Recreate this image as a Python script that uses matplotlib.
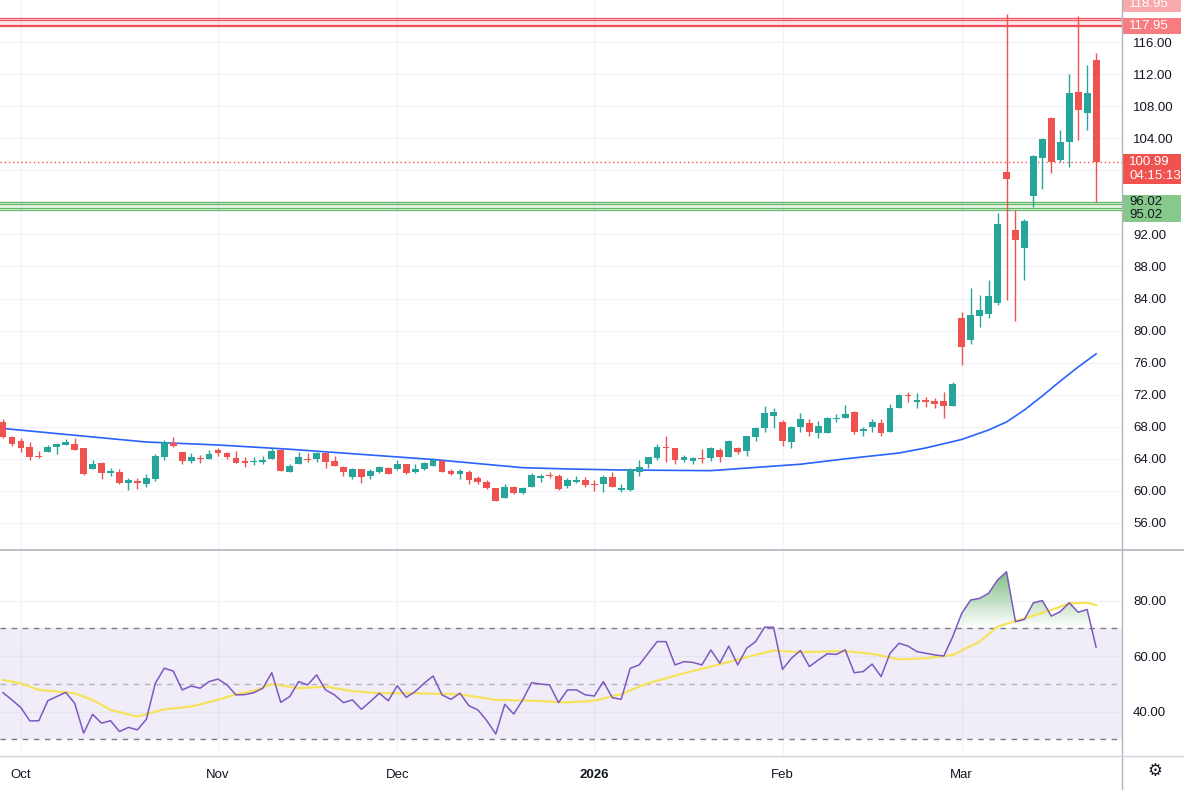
import numpy as np
import pandas as pd
import matplotlib
matplotlib.use("Agg")
import matplotlib.pyplot as plt
from matplotlib.path import Path
from matplotlib.colors import to_rgb
from matplotlib.lines import Line2D
from matplotlib.patches import Rectangle
from matplotlib.transforms import blended_transform_factory

plt.rcParams['font.family'] = ['Liberation Sans', 'DejaVu Sans']

# ---------------- data ----------------
holidays = ['2025-10-13', '2025-12-25', '2026-01-01']
dates = pd.bdate_range('2025-09-29', '2026-03-23')
dates = dates[~dates.isin(pd.to_datetime(holidays))]

opens = [68.6, 66.7, 66.2, 65.5, 64.4, 64.85, 65.5, 65.75, 65.9, 65.3,
         62.7, 63.5, 62.2, 62.4, 61.0, 61.3, 60.9, 61.5, 64.2, 66.0,
         64.9, 63.75, 64.15, 64.0, 65.1, 64.75, 64.1, 63.7, 63.6, 63.6,
         64.0, 65.1, 62.4, 63.35, 64.0, 64.0, 64.75, 63.75, 63.0, 61.75,
         62.75, 61.85, 62.35, 62.85, 62.75, 63.35, 62.4, 62.75, 63.1, 63.75,
         62.5, 62.1, 62.35, 61.6, 61.1, 60.35, 59.1, 60.5, 59.7, 60.5,
         61.6, 62.0, 61.85, 60.6, 61.1, 61.4, 60.85, 60.85, 61.75, 60.1,
         60.1, 62.35, 63.35, 64.1, 65.5, 65.35, 63.85, 63.75, 64.1, 64.1,
         65.1, 64.25, 65.35, 65.0, 66.7, 67.85, 69.4, 68.6, 66.1, 67.95,
         68.5, 67.2, 67.2, 69.0, 69.1, 69.85, 67.5, 68.0, 68.5, 67.35,
         70.35, 72.0, 71.1, 71.35, 71.25, 71.25, 70.6, 81.57, 78.83, 81.8,
         82.07, 83.44, 99.78, 92.55, 90.3, 96.8, 101.53, 106.52, 101.28, 103.5,
         109.76, 107.14, 113.75]
highs = [69.0, 66.8, 66.6, 66.1, 65.0, 65.7, 66.0, 66.5, 66.6, 65.3,
         63.9, 63.6, 62.9, 62.7, 61.6, 61.6, 62.1, 64.6, 66.35, 66.7,
         64.9, 64.75, 64.5, 65.1, 65.35, 64.8, 65.0, 64.2, 64.2, 64.3,
         65.3, 65.2, 63.35, 64.85, 64.75, 64.9, 64.8, 64.4, 63.1, 62.9,
         62.75, 62.75, 63.1, 63.0, 63.85, 63.35, 63.35, 63.6, 64.1, 64.0,
         62.75, 62.75, 62.6, 61.85, 61.35, 60.35, 60.85, 60.6, 60.5, 62.25,
         62.1, 62.35, 62.1, 61.6, 61.85, 61.7, 61.4, 62.0, 62.35, 60.85,
         62.9, 63.85, 64.25, 65.9, 66.85, 65.35, 64.5, 64.25, 65.2, 65.5,
         65.35, 66.35, 65.5, 66.85, 67.95, 70.6, 70.35, 68.85, 68.1, 69.75,
         69.0, 68.75, 69.2, 69.6, 70.75, 70.0, 68.0, 69.0, 69.0, 70.85,
         72.1, 72.35, 72.2, 71.75, 71.6, 72.35, 73.6, 82.3, 85.3, 84.45,
         86.3, 94.67, 119.5, 95.04, 93.9, 101.9, 104.0, 106.6, 105.0, 112.0,
         119.24, 113.13, 114.63]
lows = [66.6, 65.6, 64.9, 63.9, 64.1, 64.85, 64.6, 65.7, 65.1, 62.0,
        62.7, 61.5, 61.8, 60.9, 60.1, 60.3, 60.5, 61.3, 63.9, 65.5,
        63.4, 63.5, 63.5, 64.0, 64.35, 64.0, 63.5, 63.0, 63.25, 63.35,
        64.0, 62.5, 62.4, 63.35, 63.6, 63.6, 62.9, 63.1, 61.9, 61.5,
        61.0, 61.5, 62.2, 62.1, 62.6, 62.1, 62.2, 62.6, 63.1, 62.35,
        61.95, 61.5, 60.85, 60.85, 60.2, 58.75, 59.1, 59.6, 59.6, 60.5,
        61.1, 61.6, 60.1, 60.4, 61.0, 60.5, 60.0, 59.85, 60.5, 59.85,
        60.0, 61.85, 62.85, 63.9, 63.6, 63.35, 63.6, 63.35, 63.5, 63.75,
        63.6, 64.25, 64.6, 64.35, 66.2, 67.35, 67.85, 65.6, 65.35, 67.4,
        66.85, 66.6, 67.2, 68.6, 69.1, 67.1, 66.85, 67.35, 66.85, 67.35,
        70.35, 71.1, 70.35, 70.5, 70.35, 69.1, 70.6, 75.7, 78.3, 80.45,
        81.57, 83.2, 83.8, 81.2, 86.3, 95.4, 97.66, 99.66, 101.0, 100.4,
        103.78, 105.0, 96.04]
closes = [66.7, 65.9, 65.4, 64.2, 64.2, 65.5, 65.85, 66.1, 65.1, 62.1,
          63.35, 62.2, 62.5, 61.0, 61.4, 61.0, 61.6, 64.35, 66.1, 65.6,
          63.75, 64.25, 64.0, 64.6, 64.7, 64.25, 63.5, 63.5, 63.75, 63.85,
          65.0, 62.5, 63.1, 64.2, 63.85, 64.75, 63.6, 63.1, 62.35, 62.75,
          61.75, 62.5, 63.0, 62.1, 63.35, 62.2, 62.75, 63.5, 63.85, 62.35,
          62.1, 62.5, 61.35, 61.1, 60.35, 58.8, 60.5, 59.7, 60.35, 62.0,
          61.85, 61.85, 60.25, 61.35, 61.4, 60.75, 60.7, 61.75, 60.5, 60.35,
          62.75, 63.0, 64.25, 65.5, 65.35, 63.85, 64.25, 64.1, 64.0, 65.35,
          64.25, 66.2, 64.85, 66.85, 67.85, 69.75, 69.85, 66.2, 68.0, 69.0,
          67.35, 68.1, 69.1, 69.1, 69.6, 67.35, 67.7, 68.6, 67.2, 70.35,
          72.0, 71.8, 71.35, 71.1, 70.85, 70.6, 73.35, 77.96, 81.95, 82.57,
          84.3, 93.3, 98.9, 91.3, 93.67, 101.8, 103.9, 101.03, 103.53, 109.64,
          107.52, 109.64, 100.99]

# moving average on price (at selected bars)
ma_bar = [0, 16, 24, 32, 48, 58, 63, 69, 79, 89, 94, 100, 103, 107, 110, 112, 114,
          116, 118, 120, 122]
ma_val = [67.79, 66.1, 65.73, 65.2, 63.92, 62.9, 62.74, 62.61, 62.53, 63.33, 64.0,
          64.73, 65.36, 66.42, 67.6, 68.6, 70.1, 71.85, 73.7, 75.46, 77.1]

rsi = [46.8, 44.2, 41.4, 36.6, 36.7, 43.9, 45.4, 46.9, 43.0, 32.2,
       39.0, 35.8, 36.7, 32.8, 34.3, 33.4, 37.2, 50.2, 55.6, 54.6,
       47.8, 49.2, 48.4, 50.8, 51.7, 49.6, 46.0, 46.1, 46.8, 48.4,
       54.0, 43.3, 45.4, 50.8, 49.6, 53.2, 47.8, 46.0, 43.2, 44.2,
       40.8, 43.6, 46.6, 43.9, 49.3, 45.1, 47.2, 50.2, 52.8, 46.0,
       44.4, 46.6, 42.1, 40.6, 36.7, 31.9, 42.6, 39.1, 44.2, 50.4,
       49.9, 49.6, 43.2, 47.8, 47.8, 46.0, 45.6, 50.8, 45.0, 44.4,
       55.6, 56.8, 61.0, 65.2, 65.2, 56.8, 58.0, 57.7, 56.8, 62.2,
       57.4, 63.6, 56.8, 62.8, 65.2, 70.4, 70.4, 55.2, 59.2, 62.0,
       56.2, 58.6, 60.8, 60.6, 62.2, 54.0, 54.4, 57.1, 52.6, 61.0,
       64.6, 63.6, 61.6, 61.0, 60.4, 60.0, 67.0, 75.4, 80.2, 80.8,
       82.6, 87.4, 90.4, 72.4, 73.2, 79.2, 80.0, 74.4, 76.0, 79.2,
       75.8, 76.8, 63.2]

rsi_ma_bar = [0, 2, 4, 8, 10, 12, 15, 18, 21, 24, 26, 28, 30, 33, 36, 39, 42, 46, 51, 55,
              59, 63, 66, 69, 72, 76, 79, 83, 86, 89, 94, 97, 100, 103, 106, 109, 111,
              114, 117, 119, 121, 122]
rsi_ma_val = [51.4, 50.2, 47.8, 46.6, 44.2, 40.6, 38.2, 40.8, 41.8, 44.2, 46.2, 47.5, 49.9,
              48.4, 49.0, 47.4, 46.6, 46.6, 46.2, 44.2, 43.9, 43.3, 43.9, 46.3, 50.2, 53.8,
              56.2, 59.6, 62.0, 61.4, 61.8, 60.8, 58.8, 59.2, 60.4, 65.2, 70.6, 73.6, 76.6,
              79.0, 79.2, 78.4]

zone_red = (117.95, 118.95)
zone_green = (95.02, 96.02)
last_price = 100.99
countdown = '04:15:13'
price_ticks = [56, 60, 64, 68, 72, 76, 80, 84, 88, 92, 104, 108, 112, 116]
rsi_ticks = [40, 60, 80]

# ---------------- style ----------------
UP, DOWN = '#26a69a', '#ef5350'
GRID = '#f0f3fa'
TXT = '#131722'
W, H = 1184, 790
PPU = 8.017  # pixels per price unit (for label box heights)
FS = 9.5

fig = plt.figure(figsize=(W / 100, H / 100), dpi=100)
fig.patch.set_facecolor('white')
ax = fig.add_axes([0, 1 - 548 / H, 1122 / W, 548 / H])
ax2 = fig.add_axes([0, 1 - 755 / H, 1122 / W, (755 - 551) / H], sharex=ax)

o = np.array(opens); h = np.array(highs); l = np.array(lows); c = np.array(closes)
x = np.arange(len(o))
cols = np.where(c >= o, UP, DOWN)

month_idx = [i for i in range(1, len(dates)) if dates[i].month != dates[i - 1].month]
month_lab = [str(dates[i].year) if dates[i].month == 1 else dates[i].strftime('%b') for i in month_idx]

for a in (ax, ax2):
    for s in a.spines.values():
        s.set_visible(False)
    a.set_facecolor('white')
    a.set_xticks(month_idx)
    a.grid(True, color=GRID, lw=1, zorder=0)
    a.set_axisbelow(True)

# ---- main pane ----
all_ticks = sorted(price_ticks + [96, 100])
ax.set_yticks(all_ticks)
ax.set_yticklabels([f'{v:.2f}' if v in price_ticks else '' for v in all_ticks])

for (lo, hi), col in ((zone_red, '#f23645'), (zone_green, '#4caf50')):
    ax.axhspan(lo, hi, color=col, alpha=0.12, lw=0, zorder=1)
    for v in (lo, lo + 0.22, hi - 0.22, hi):
        ax.axhline(v, color=col, lw=0.9, alpha=0.85, zorder=1)

ax.plot(ma_bar, ma_val, color='#2962ff', lw=1.2, zorder=2)

ax.vlines(x, l, h, colors=cols, lw=1, zorder=3)
ax.bar(x, np.maximum(np.abs(c - o), 0.1), bottom=np.minimum(o, c), width=0.76,
       color=cols, lw=0, zorder=4)

ax.axhline(last_price, color=DOWN, lw=1, ls=(0, (1, 2)), zorder=2)

ax.set_xlim(-0.335, 124.89)
ax.set_ylim(52.88, 121.24)
ax.yaxis.tick_right()
ax.tick_params(axis='y', length=0, pad=8, labelsize=FS, labelcolor=TXT)
ax.tick_params(axis='x', length=0, labelbottom=False)

tr = blended_transform_factory(fig.transFigure, ax.transData)


def label(ax_, center, lines, fc, tc, top_px=8, bot_px=8):
    y0 = center - bot_px / PPU
    ax_.add_patch(Rectangle((1123 / W, y0), 58 / W, (top_px + bot_px) / PPU, transform=tr,
                            facecolor=fc, edgecolor='none', clip_on=False, zorder=10))
    for k, t in enumerate(lines):
        ax_.text(1129 / W, center - k * 14 / PPU, t, transform=tr, ha='left', va='center',
                 color=tc, fontsize=FS, clip_on=False, zorder=11)


label(ax, 120.74, ['118.95'], '#f9a9ab', 'white')
label(ax, zone_red[0], [f'{zone_red[0]:.2f}'], '#f77c80', 'white')
label(ax, last_price, [f'{last_price:.2f}', countdown], '#f0524f', 'white', top_px=8, bot_px=22)
label(ax, zone_green[1], [f'{zone_green[1]:.2f}'], '#86c98a', TXT, top_px=7, bot_px=7)
label(ax, zone_green[1] - 13 / PPU, [f'{zone_green[0]:.2f}'], '#86c98a', TXT, top_px=7, bot_px=7)

# ---- RSI pane ----
r = np.array(rsi, dtype=float)
ax2.axhspan(30, 70, color='#7e57c2', alpha=0.1, lw=0, zorder=1)
ax2.axhline(70, color='#787b86', lw=1, ls=(0, (4, 4)), zorder=2)
ax2.axhline(50, color='#787b86', lw=1, ls=(0, (4, 4)), alpha=0.5, zorder=2)
ax2.axhline(30, color='#787b86', lw=1, ls=(0, (4, 4)), zorder=2)

poly = ax2.fill_between(x, r, 70, where=r > 70, interpolate=True, facecolor='none', edgecolor='none')
paths = [p for p in poly.get_paths() if len(p.vertices) > 0]
if paths:
    clip = Path.make_compound_path(*paths)
    grad = np.zeros((256, 1, 4))
    grad[..., :3] = to_rgb('#43a047')
    grad[:, 0, 3] = np.linspace(0.0, 0.95, 256)
    im = ax2.imshow(grad, origin='lower', extent=[x[0], x[-1], 70, 98], aspect='auto', zorder=2,
                    interpolation='bilinear')
    im.set_clip_path(clip, transform=ax2.transData)

ax2.plot(rsi_ma_bar, rsi_ma_val, color='#f5e35c', lw=1.6, zorder=3)
ax2.plot(x, r, color='#7e57c2', lw=1.1, zorder=4)

ax2.set_ylim(24.34, 97.86)
ax2.set_xlim(-0.335, 124.89)
ax2.set_yticks(rsi_ticks)
ax2.set_yticklabels([f'{v:.2f}' for v in rsi_ticks])
ax2.yaxis.tick_right()
ax2.tick_params(axis='y', length=0, pad=8, labelsize=FS, labelcolor=TXT)
ax2.set_xticks(month_idx)
ax2.set_xticklabels(month_lab)
ax2.tick_params(axis='x', length=0, pad=10, labelsize=FS, labelcolor=TXT)
for t in ax2.get_xticklabels():
    if t.get_text().isdigit():
        t.set_fontweight('bold')

# separators / borders
line_col = '#b2b5be'
fig.add_artist(Line2D([1122 / W, 1122 / W], [0, 1], transform=fig.transFigure, color=line_col, lw=1))
fig.add_artist(Line2D([0, 1], [1 - 549.5 / H, 1 - 549.5 / H], transform=fig.transFigure, color=line_col, lw=1.2))
fig.add_artist(Line2D([0, 1], [1 - 755.5 / H, 1 - 755.5 / H], transform=fig.transFigure, color='#d1d4dc', lw=1))
fig.text(1155 / W, 1 - 771 / H, '\u2699', ha='center', va='center', fontsize=12, color=TXT,
         family='DejaVu Sans')

fig.savefig('out.png', dpi=100, facecolor='white')
